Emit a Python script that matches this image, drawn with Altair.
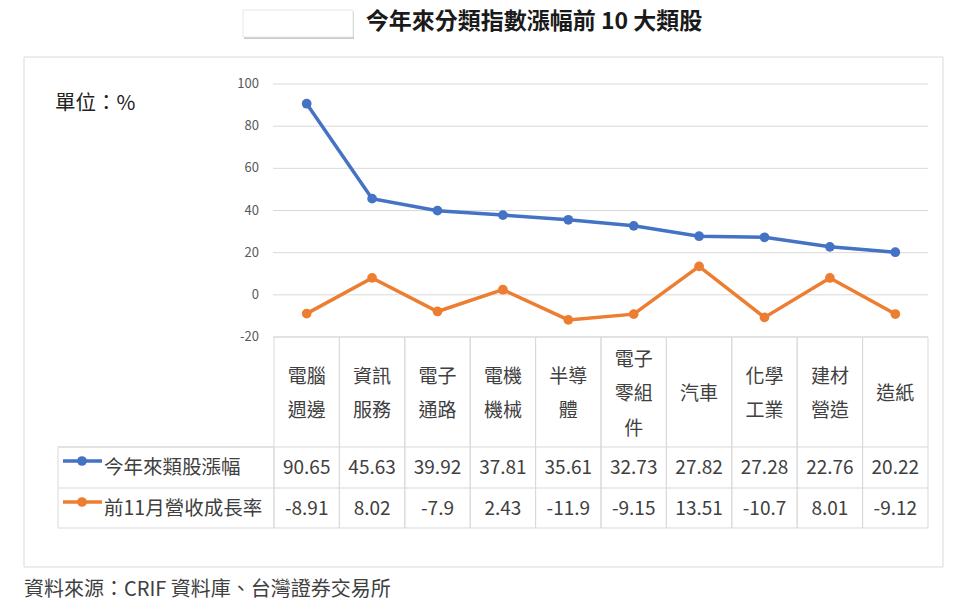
import altair as alt
import pandas as pd

# ---- data ----
categories = ["電腦\n週邊", "資訊\n服務", "電子\n通路", "電機\n機械", "半導\n體",
              "電子\n零組\n件", "汽車", "化學\n工業", "建材\n營造", "造紙"]
ytd_gain = [90.65, 45.63, 39.92, 37.81, 35.61, 32.73, 27.82, 27.28, 22.76, 20.22]
rev_growth = [-8.91, 8.02, -7.9, 2.43, -11.9, -9.15, 13.51, -10.7, 8.01, -9.12]
series_names = ["今年來類股漲幅", "前11月營收成長率"]
series_colors = ["#4472C4", "#ED7D31"]
y_ticks = [-20, 0, 20, 40, 60, 80, 100]

title_text = "今年來分類指數漲幅前 10 大類股"
unit_text = "單位：%"
source_text = "資料來源：CRIF 資料庫、台灣證券交易所"

FONT = "Noto Sans CJK TC"
TXT = "#404040"
GRID = "#d9d9d9"

n = len(categories)
df = pd.DataFrame({
    "i": list(range(n)),
    "cat": categories,
    "nl": [c.count("\n") + 1 for c in categories],
    "ytd_s": [str(v) for v in ytd_gain],
    "rev_s": [str(v) for v in rev_growth],
})
df["i0"] = df["i"] - 0.5
df["i1"] = df["i"] + 0.5

long = pd.concat([
    pd.DataFrame({"i": df["i"], "value": ytd_gain, "series": series_names[0]}),
    pd.DataFrame({"i": df["i"], "value": rev_growth, "series": series_names[1]}),
], ignore_index=True)

ticks_df = pd.DataFrame({"tick": y_ticks, "lab": [str(t) for t in y_ticks]})

# plot area (absolute pixels in the 960x610 canvas)
PX0, PX1 = 274, 928
PY0, PY1 = 84, 337
xscale = alt.Scale(domain=[-0.5, n - 0.5], range=[PX0, PX1], nice=False, zero=False)
yscale = alt.Scale(domain=[-20, 100], range=[PY1, PY0], nice=False, zero=False)
cscale = alt.Scale(domain=series_names, range=series_colors)

one = pd.DataFrame({"k": [0]})

def txt(t, x, y, size, color=TXT, align="left", weight="normal"):
    return alt.Chart(pd.DataFrame({"t": [t]})).mark_text(
        font=FONT, fontSize=size, color=color, align=align, baseline="middle", fontWeight=weight
    ).encode(x=alt.value(x), y=alt.value(y), text="t:N")

def box(x, x2, y, y2, fill="white", stroke=None, fill_opacity=1):
    kw = dict(fill=fill, fillOpacity=fill_opacity, strokeWidth=1)
    if stroke:
        kw["stroke"] = stroke
    return alt.Chart(one).mark_rect(**kw).encode(
        x=alt.value(x), x2=alt.value(x2), y=alt.value(y), y2=alt.value(y2))

frame = box(24, 943, 57, 567, stroke=GRID)
tshadow = box(244, 354, 12, 39, fill="#c8c8c8")
tbox = box(243, 353, 10, 37, stroke="#e8e8e8")
title = txt(title_text, 534, 22, 23, color="#1a1a1a", align="center", weight="bold")
unit = txt(unit_text, 55, 104, 20.5, color="#222222")
source = txt(source_text, 24, 590, 20)

# y grid + labels
grid = alt.Chart(ticks_df).mark_rule(color=GRID, strokeWidth=1).encode(
    y=alt.Y("tick:Q", scale=yscale, axis=None), x=alt.value(PX0 - 1), x2=alt.value(PX1))
ylab = alt.Chart(ticks_df).mark_text(font=FONT, fontSize=13, color="#595959", align="right",
                                     baseline="middle").encode(
    y=alt.Y("tick:Q", scale=yscale, axis=None), x=alt.value(259), text="lab:N")

# lines
lines = alt.Chart(long).mark_line(strokeWidth=3.5).encode(
    x=alt.X("i:Q", scale=xscale, axis=None),
    y=alt.Y("value:Q", scale=yscale, axis=None),
    color=alt.Color("series:N", scale=cscale, legend=None),
)
points = alt.Chart(long).mark_point(filled=True, size=95, opacity=1).encode(
    x=alt.X("i:Q", scale=xscale, axis=None),
    y=alt.Y("value:Q", scale=yscale, axis=None),
    color=alt.Color("series:N", scale=cscale, legend=None),
)

# table
T0, T1, T2, T3 = 337, 447, 488, 528
cells = alt.Chart(df).mark_rect(fill="white", fillOpacity=0, stroke=GRID, strokeWidth=1).encode(
    x=alt.X("i0:Q", scale=xscale, axis=None), x2="i1:Q", y=alt.value(T0), y2=alt.value(T3))
legcol = box(58, PX0, T1, T3, fill_opacity=0, stroke=GRID)

def hrule(y):
    return alt.Chart(one).mark_rule(color=GRID, strokeWidth=1).encode(
        x=alt.value(58), x2=alt.value(PX1), y=alt.value(y))

LH = 34.5
HC = 394
def header_layer(nl):
    return alt.Chart(df).transform_filter(alt.datum.nl == nl).mark_text(
        font=FONT, fontSize=19, color=TXT, align="center", baseline="middle",
        lineBreak="\n", lineHeight=LH
    ).encode(x=alt.X("i:Q", scale=xscale, axis=None), y=alt.value(HC - (nl - 1) * LH / 2),
             text="cat:N")

row1 = alt.Chart(df).mark_text(
    font=FONT, fontSize=19, color=TXT, align="center", baseline="middle"
).encode(x=alt.X("i:Q", scale=xscale, axis=None), y=alt.value(468), text="ytd_s:N")
row2 = alt.Chart(df).mark_text(
    font=FONT, fontSize=19, color=TXT, align="center", baseline="middle"
).encode(x=alt.X("i:Q", scale=xscale, axis=None), y=alt.value(509), text="rev_s:N")

def legend_entry(k, y):
    d = pd.DataFrame({"series": [series_names[k]]})
    c = series_colors[k]
    ln = alt.Chart(d).mark_rule(strokeWidth=3.5, color=c).encode(
        x=alt.value(63), x2=alt.value(102), y=alt.value(y - 7))
    pt = alt.Chart(d).mark_point(filled=True, size=95, opacity=1, color=c).encode(
        x=alt.value(82), y=alt.value(y - 7))
    tx = alt.Chart(d).mark_text(font=FONT, fontSize=19.5, color=TXT, align="left", baseline="middle").encode(
        x=alt.value(104), y=alt.value(y), text="series:N")
    return [ln, pt, tx]

layers = [frame, tshadow, tbox, title, unit, source, grid, ylab,
          cells, legcol, hrule(T1), hrule(T2),
          header_layer(1), header_layer(2), header_layer(3), row1, row2]
layers += legend_entry(0, 468) + legend_entry(1, 509)
layers += [lines, points]

chart = alt.layer(*layers).properties(
    width=960, height=610,
    autosize=alt.AutoSizeParams(type="none"),
    padding=0,
    background="white",
).configure_view(stroke=None)

chart.save("out.html", embed_options={"renderer": "svg", "actions": False})
